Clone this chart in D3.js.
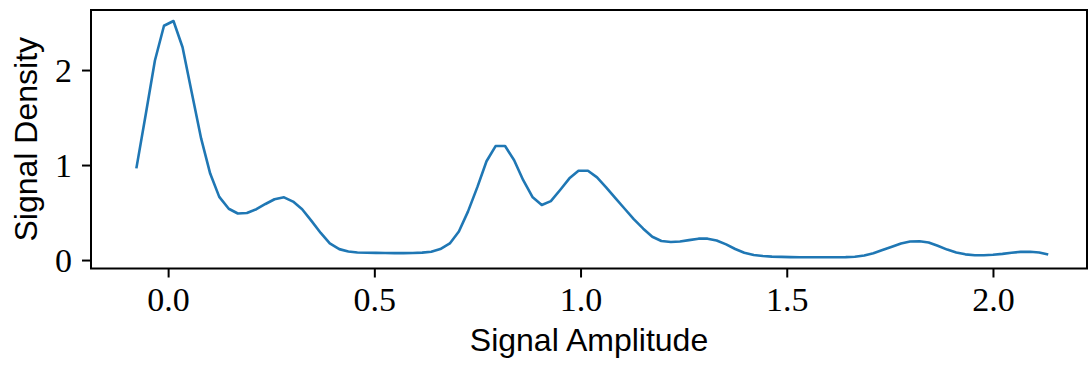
<!DOCTYPE html>
<html>
<head>
<meta charset="utf-8">
<script src="https://cdn.jsdelivr.net/npm/d3@7"></script>
<style>
  body { margin: 0; background: #fff; }
  svg { display: block; }
  .tick text { font-family: "Liberation Serif", serif; font-size: 34px; fill: #000; }
  .label { font-family: "Liberation Sans", sans-serif; font-size: 32px; fill: #000; }
</style>
</head>
<body>
<figure id="chart" style="margin:0"></figure>
<script>
// amplitude samples (x) and density
const amplitude = [
  -0.077, -0.054, -0.032, -0.010, 0.013, 0.035, 0.057, 0.080, 0.102, 0.124,
  0.147, 0.169, 0.191, 0.214, 0.236, 0.258, 0.281, 0.303, 0.325, 0.348,
  0.370, 0.392, 0.415, 0.437, 0.459, 0.482, 0.504, 0.526, 0.549, 0.571,
  0.593, 0.616, 0.638, 0.660, 0.683, 0.705, 0.727, 0.750, 0.772, 0.794,
  0.817, 0.839, 0.861, 0.884, 0.906, 0.928, 0.951, 0.973, 0.995, 1.018,
  1.040, 1.062, 1.085, 1.107, 1.129, 1.152, 1.174, 1.196, 1.219, 1.241,
  1.263, 1.286, 1.308, 1.330, 1.353, 1.375, 1.397, 1.420, 1.442, 1.464,
  1.487, 1.509, 1.531, 1.554, 1.576, 1.598, 1.621, 1.643, 1.665, 1.688,
  1.710, 1.732, 1.755, 1.777, 1.799, 1.822, 1.844, 1.866, 1.889, 1.911,
  1.933, 1.956, 1.978, 2.000, 2.023, 2.045, 2.067, 2.090, 2.112, 2.134
];
const density = [
  0.965, 1.54, 2.10, 2.466, 2.516, 2.24, 1.77, 1.28, 0.91, 0.665,
  0.54, 0.49, 0.495, 0.535, 0.59, 0.64, 0.66, 0.615, 0.535, 0.41,
  0.285, 0.175, 0.115, 0.09, 0.08, 0.077, 0.075, 0.074, 0.073, 0.073,
  0.074, 0.078, 0.088, 0.116, 0.175, 0.30, 0.51, 0.77, 1.04, 1.20,
  1.20, 1.05, 0.84, 0.66, 0.58, 0.62, 0.74, 0.86, 0.94, 0.94,
  0.87, 0.765, 0.65, 0.54, 0.43, 0.33, 0.245, 0.20, 0.19, 0.195,
  0.21, 0.225, 0.225, 0.205, 0.165, 0.116, 0.077, 0.053, 0.042, 0.036,
  0.033, 0.031, 0.03, 0.03, 0.03, 0.03, 0.03, 0.031, 0.035, 0.048,
  0.072, 0.105, 0.14, 0.175, 0.195, 0.198, 0.185, 0.15, 0.11, 0.08,
  0.06, 0.05, 0.05, 0.055, 0.065, 0.077, 0.086, 0.088, 0.08, 0.058
];
const xTicks = [0.0, 0.5, 1.0, 1.5, 2.0];
const yTicks = [0, 1, 2];

const width = 1090, height = 365;
const plotLeft = 91, plotRight = 1087, plotTop = 10, plotBottom = 268.5;

const svg = d3.select('figure#chart')
  .append('svg')
  .attr('width', width)
  .attr('height', height);

const x = d3.scaleLinear().domain([-0.187, 2.228]).range([plotLeft, plotRight]);
const y = d3.scaleLinear().domain([-0.089, 2.632]).range([plotBottom, plotTop]);

// x axis
const gx = svg.append('g')
  .attr('transform', 'translate(0,' + plotBottom + ')')
  .call(d3.axisBottom(x).tickValues(xTicks).tickFormat(d3.format('.1f')).tickSize(9).tickSizeOuter(0));
gx.select('.domain').remove();
gx.selectAll('.tick line').attr('stroke', '#000').attr('stroke-width', 2);
gx.selectAll('.tick text').attr('y', 42.5).attr('dy', null);

// y axis
const gy = svg.append('g')
  .attr('transform', 'translate(' + plotLeft + ',0)')
  .call(d3.axisLeft(y).tickValues(yTicks).tickFormat(d3.format('d')).tickSize(9).tickSizeOuter(0));
gy.select('.domain').remove();
gy.selectAll('.tick line').attr('stroke', '#000').attr('stroke-width', 2);
gy.selectAll('.tick text').attr('x', -19).attr('dy', null).attr('y', 11);

// density curve
const line = d3.line()
  .x((d, i) => x(amplitude[i]))
  .y(d => y(d));

svg.append('path')
  .datum(density)
  .attr('d', line)
  .attr('fill', 'none')
  .attr('stroke', '#1f77b4')
  .attr('stroke-width', 2.6)
  .attr('stroke-linejoin', 'round');

// frame
svg.append('rect')
  .attr('x', plotLeft)
  .attr('y', plotTop)
  .attr('width', plotRight - plotLeft)
  .attr('height', plotBottom - plotTop)
  .attr('fill', 'none')
  .attr('stroke', '#000')
  .attr('stroke-width', 2);

svg.append('text')
  .attr('class', 'label')
  .attr('x', (plotLeft + plotRight) / 2)
  .attr('y', 351)
  .attr('text-anchor', 'middle')
  .text('Signal Amplitude');

svg.append('text')
  .attr('class', 'label')
  .attr('transform', 'translate(37,' + (plotTop + plotBottom) / 2 + ') rotate(-90)')
  .attr('text-anchor', 'middle')
  .text('Signal Density');
</script>
</body>
</html>
